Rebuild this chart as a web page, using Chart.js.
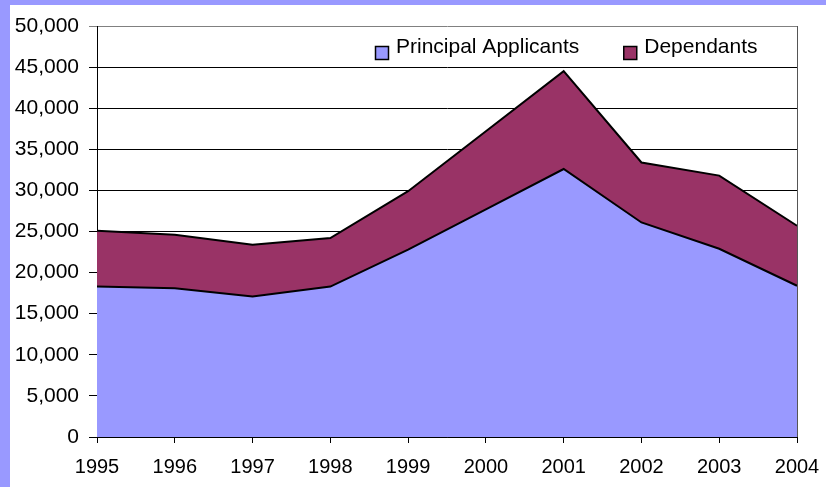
<!DOCTYPE html>
<html>
<head>
<meta charset="utf-8">
<script src="https://cdn.jsdelivr.net/npm/chart.js@4.4.1/dist/chart.umd.min.js"></script>
<style>
html,body{margin:0;padding:0;background:#fff;}
#wrap{width:826px;height:487px;position:relative;}
</style>
</head>
<body>
<div id="wrap"><canvas id="c" width="826" height="487"></canvas></div>
<script>
const years = ['1995','1996','1997','1998','1999','2000','2001','2002','2003','2004'];
const principalApplicants = [18300, 18100, 17100, 18300, 22800, 27700, 32600, 26100, 22900, 18400];
const dependants = [6800, 6500, 6300, 5900, 7100, 9500, 11900, 7300, 8900, 7300];
const seriesNames = ['Principal Applicants', 'Dependants'];
const seriesColors = ['#9999FF', '#993366'];

const FONT = 'Liberation Sans, Arial, sans-serif';

const framePlugin = {
  id: 'frame',
  beforeDraw(chart) {
    const ctx = chart.ctx;
    ctx.save();
    ctx.fillStyle = '#9999FF';
    ctx.fillRect(0, 0, chart.width, chart.height);
    ctx.fillStyle = '#FFFFFF';
    ctx.fillRect(10, 5, chart.width - 10, chart.height - 5);
    ctx.restore();
  },
  afterDatasetsDraw(chart) {
    const ctx = chart.ctx;
    const a = chart.chartArea;
    ctx.save();
    ctx.strokeStyle = '#555555';
    ctx.lineWidth = 1;
    ctx.beginPath();
    ctx.moveTo(Math.round(a.right) + 0.5, a.top);
    ctx.lineTo(Math.round(a.right) + 0.5, a.bottom);
    ctx.stroke();
    ctx.restore();
  },
  afterDraw(chart) {
    const ctx = chart.ctx;
    const a = chart.chartArea;
    ctx.save();
    ctx.font = '21px ' + FONT;
    ctx.textBaseline = 'alphabetic';
    let x = a.left + 278;
    const boxTop = a.top + 20;
    const base = a.top + 27;
    chart.data.datasets.forEach((ds, i) => {
      ctx.fillStyle = ds.backgroundColor;
      ctx.fillRect(x, boxTop, 13, 13);
      ctx.strokeStyle = '#000';
      ctx.lineWidth = 1.5;
      ctx.strokeRect(x + 0.5, boxTop + 0.5, 13, 13);
      ctx.fillStyle = '#000';
      ctx.fillText(ds.label, x + 21, base);
      x += 21 + ctx.measureText(ds.label).width + 44;
    });
    ctx.restore();
  }
};

new Chart(document.getElementById('c'), {
  type: 'line',
  data: {
    labels: years,
    datasets: [
      {
        label: seriesNames[0],
        data: principalApplicants,
        backgroundColor: seriesColors[0],
        borderColor: '#000',
        borderWidth: 2,
        fill: 'origin',
        pointRadius: 0,
        tension: 0
      },
      {
        label: seriesNames[1],
        data: dependants,
        backgroundColor: seriesColors[1],
        borderColor: '#000',
        borderWidth: 2,
        fill: '-1',
        pointRadius: 0,
        tension: 0
      }
    ]
  },
  options: {
    responsive: false,
    animation: false,
    devicePixelRatio: 1,
    layout: { padding: { top: 26, right: 29, left: 0, bottom: 0 } },
    plugins: {
      legend: { display: false },
      tooltip: { enabled: false },
      filler: { propagate: false }
    },
    scales: {
      x: {
        offset: false,
        grid: { drawOnChartArea: false, drawTicks: true, tickLength: 6, color: '#000' },
        border: { color: '#000', width: 1 },
        ticks: { color: '#000', font: { family: FONT, size: 20 }, padding: 12, maxRotation: 0, autoSkip: false },
        afterFit(s) { s.height = 50; s.paddingLeft = 0; s.paddingRight = 0; }
      },
      y: {
        stacked: true,
        min: 0,
        max: 50000,
        grid: {
          color: (c) => (c.tick && c.tick.value === 50000 ? '#808080' : '#000'),
          tickLength: 8,
          lineWidth: 1
        },
        border: { color: '#000', width: 1 },
        ticks: {
          stepSize: 5000,
          color: '#000',
          font: { family: FONT, size: 21 },
          padding: 10,
          callback: (v) => Number(v).toLocaleString('en-US')
        },
        afterFit(s) { s.width = 97; s.paddingTop = 0; s.paddingBottom = 0; }
      }
    }
  },
  plugins: [framePlugin]
});
</script>
</body>
</html>
